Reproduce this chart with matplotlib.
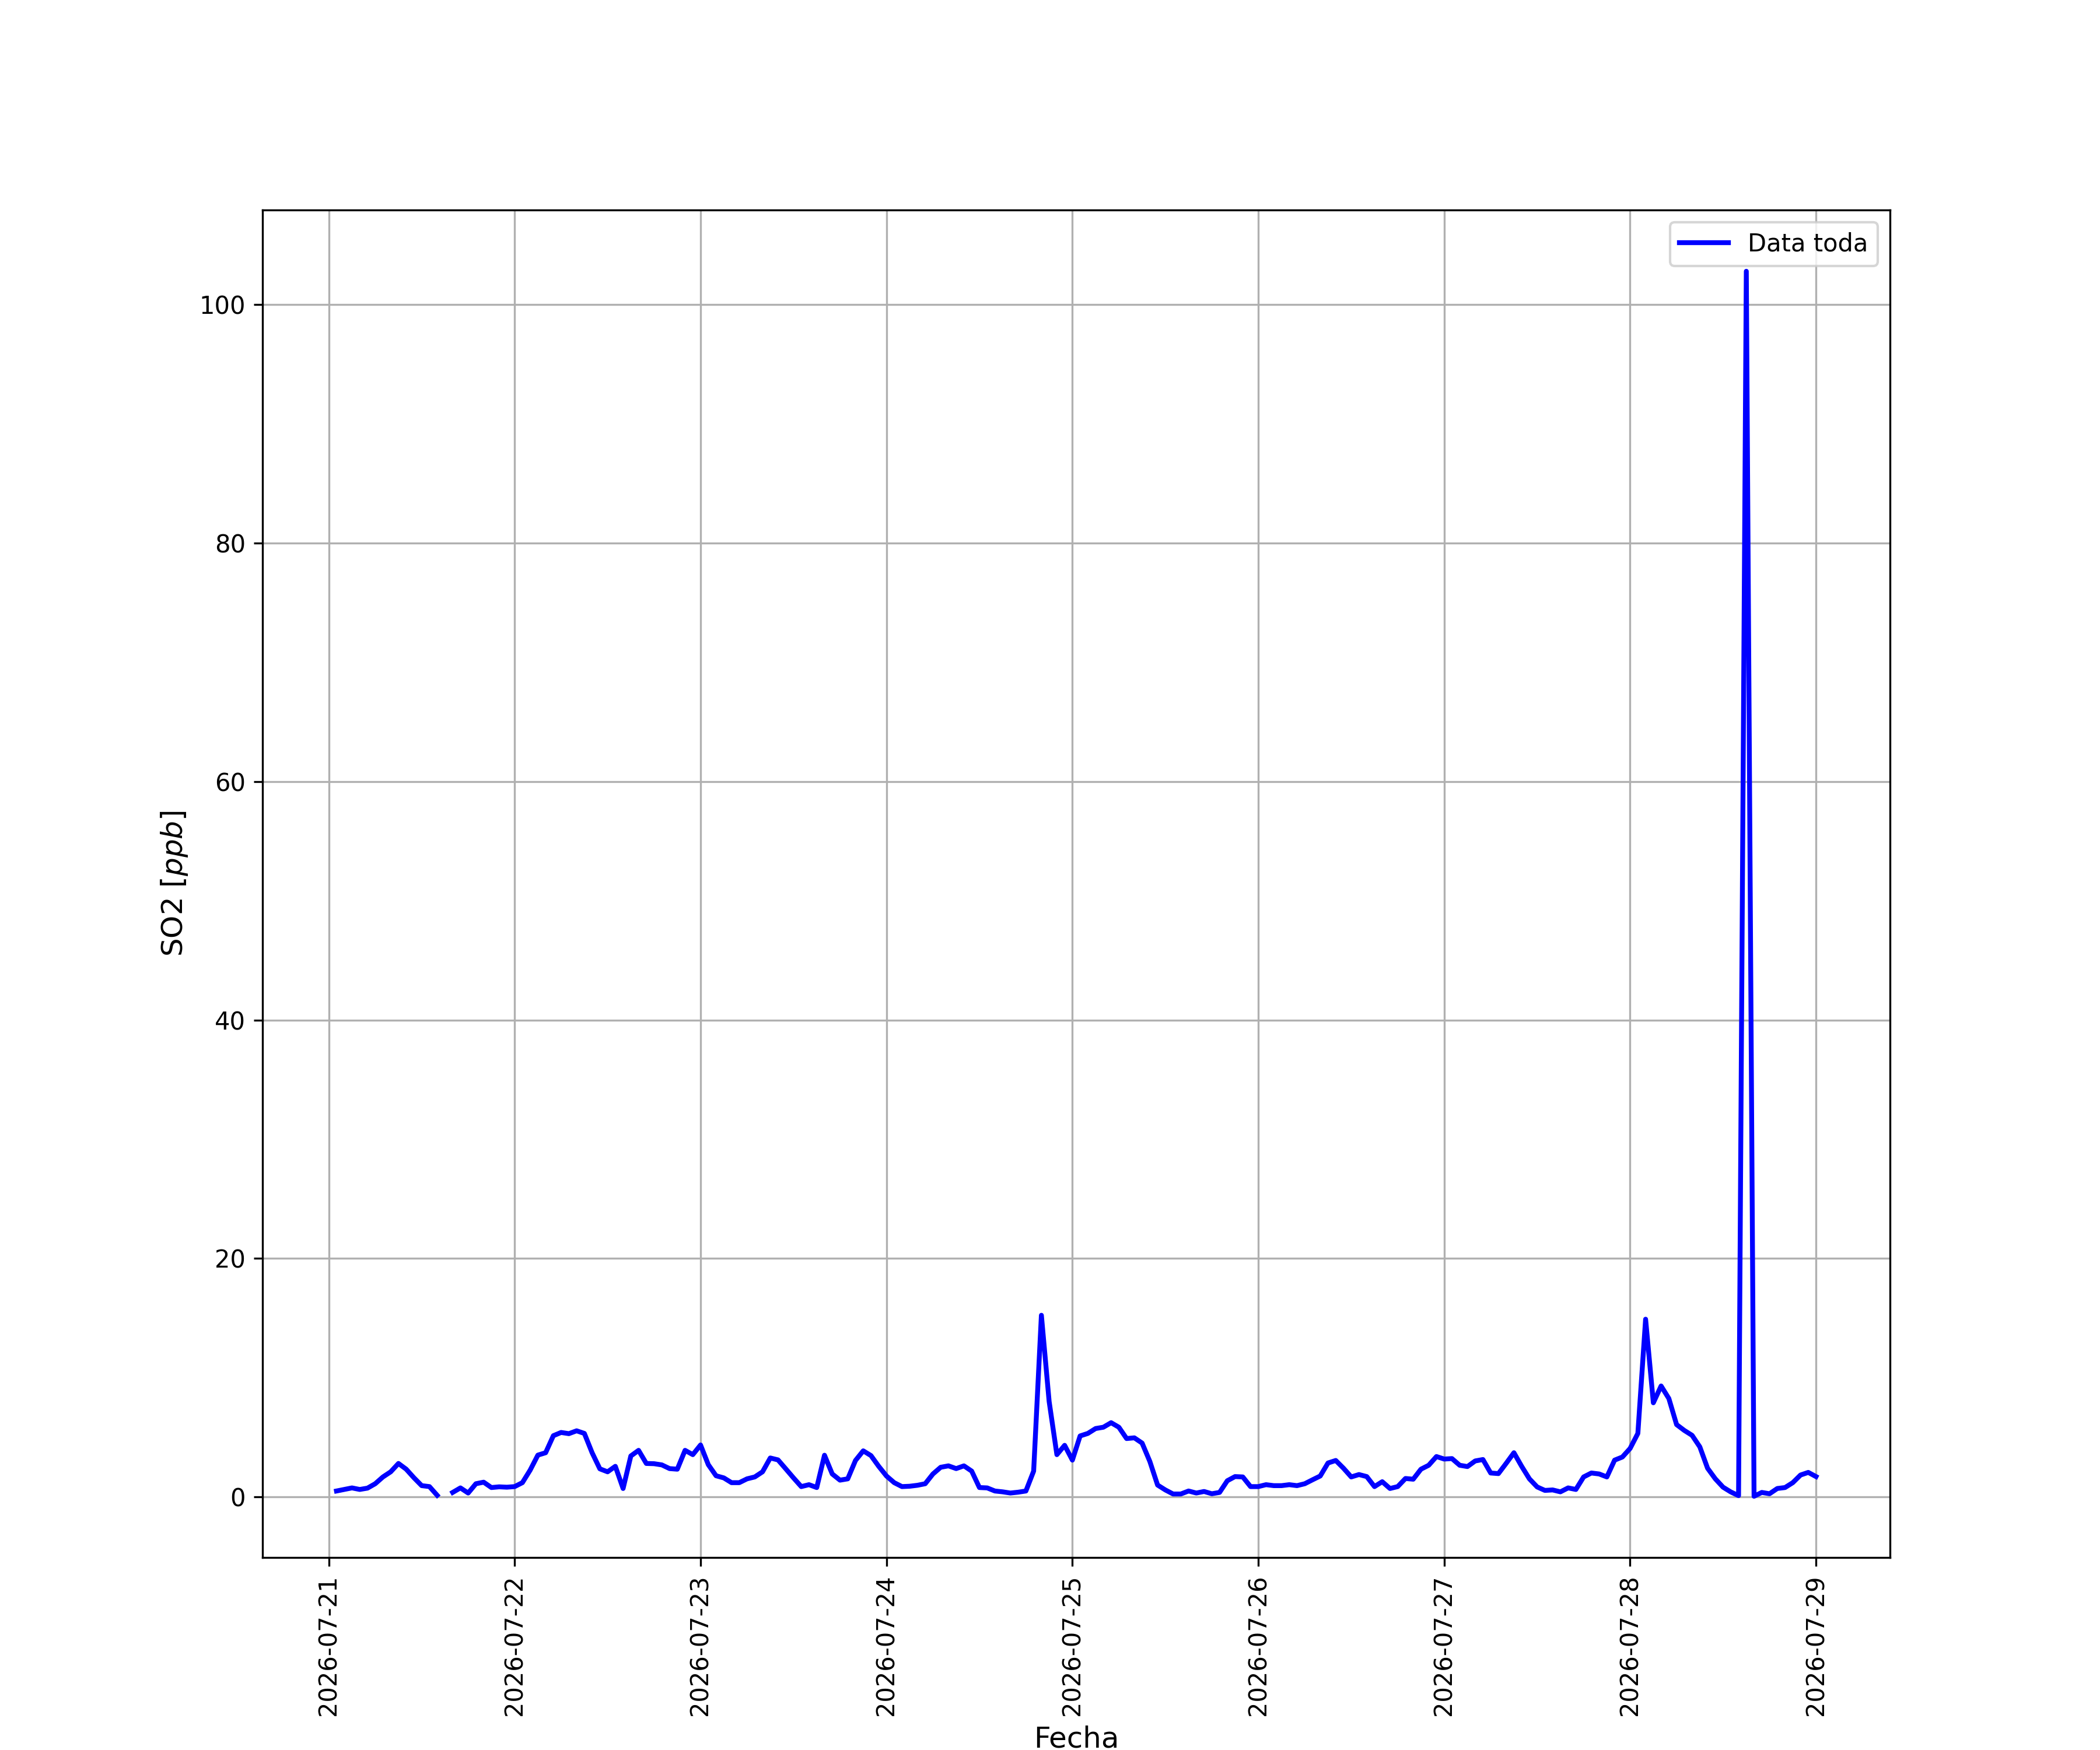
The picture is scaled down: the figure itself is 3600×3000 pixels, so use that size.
import numpy as np
import pandas as pd
import matplotlib
matplotlib.use("Agg")
import matplotlib.pyplot as plt
import matplotlib.dates as mdates

start = "2026-07-21 01:00"
n_hours = 192

so2_day1 = [0.49, 0.62, 0.75, 0.62, 0.73, 1.10, 1.67, 2.10, 2.80, 2.32, 1.60, 0.94,
            0.86, 0.13, np.nan, 0.37, 0.75, 0.32, 1.10, 1.23, 0.78, 0.84, 0.81, 0.86]
so2_day2 = [1.19, 2.24, 3.50, 3.70, 5.13, 5.40, 5.30, 5.54, 5.32, 3.70, 2.35, 2.10,
            2.56, 0.70, 3.43, 3.90, 2.80, 2.78, 2.68, 2.37, 2.32, 3.90, 3.54, 4.35]
so2_day3 = [2.70, 1.77, 1.59, 1.19, 1.19, 1.51, 1.67, 2.10, 3.26, 3.10, 2.35, 1.59,
            0.86, 1.02, 0.78, 3.49, 1.92, 1.40, 1.51, 3.05, 3.86, 3.46, 2.56, 1.75]
so2_day4 = [1.19, 0.86, 0.89, 0.97, 1.10, 1.92, 2.48, 2.60, 2.37, 2.60, 2.16, 0.78,
            0.75, 0.49, 0.42, 0.32, 0.39, 0.49, 2.16, 15.23, 8.00, 3.54, 4.32, 3.08]
so2_day5 = [5.11, 5.32, 5.73, 5.84, 6.22, 5.84, 4.89, 4.95, 4.51, 2.97, 0.99, 0.58,
            0.24, 0.24, 0.49, 0.32, 0.45, 0.26, 0.37, 1.35, 1.70, 1.67, 0.86, 0.86]
so2_day6 = [1.02, 0.94, 0.94, 1.02, 0.94, 1.10, 1.43, 1.75, 2.84, 3.05, 2.40, 1.67,
            1.87, 1.70, 0.86, 1.27, 0.70, 0.86, 1.54, 1.48, 2.32, 2.65, 3.38, 3.17]
so2_day7 = [3.21, 2.65, 2.54, 3.01, 3.13, 2.00, 1.95, 2.81, 3.70, 2.56, 1.51, 0.83,
            0.54, 0.58, 0.42, 0.75, 0.62, 1.67, 2.00, 1.92, 1.67, 3.08, 3.34, 4.06]
so2_day8 = [5.32, 14.90, 7.89, 9.30, 8.25, 6.06, 5.57, 5.16, 4.19, 2.40, 1.51, 0.81,
            0.41, 0.10, 102.8, 0.05, 0.37, 0.26, 0.70, 0.78, 1.19, 1.83, 2.05, 1.70]

so2 = (so2_day1 + so2_day2 + so2_day3 + so2_day4 +
       so2_day5 + so2_day6 + so2_day7 + so2_day8)
fechas = pd.date_range(start=start, periods=n_hours, freq="h")

fig, ax = plt.subplots(figsize=(12, 10), dpi=300)
ax.plot(fechas, so2, color="blue", linewidth=2, label="Data toda")
ax.xaxis.set_major_locator(mdates.DayLocator())
ax.xaxis.set_major_formatter(mdates.DateFormatter("%Y-%m-%d"))
plt.setp(ax.get_xticklabels(), rotation=90)
ax.set_xlabel("Fecha", fontsize=12)
ax.set_ylabel("SO2 [$ppb$]", fontsize=12)
ax.grid(True)
ax.legend(loc="upper right")
fig.savefig("out.png", dpi=300)
